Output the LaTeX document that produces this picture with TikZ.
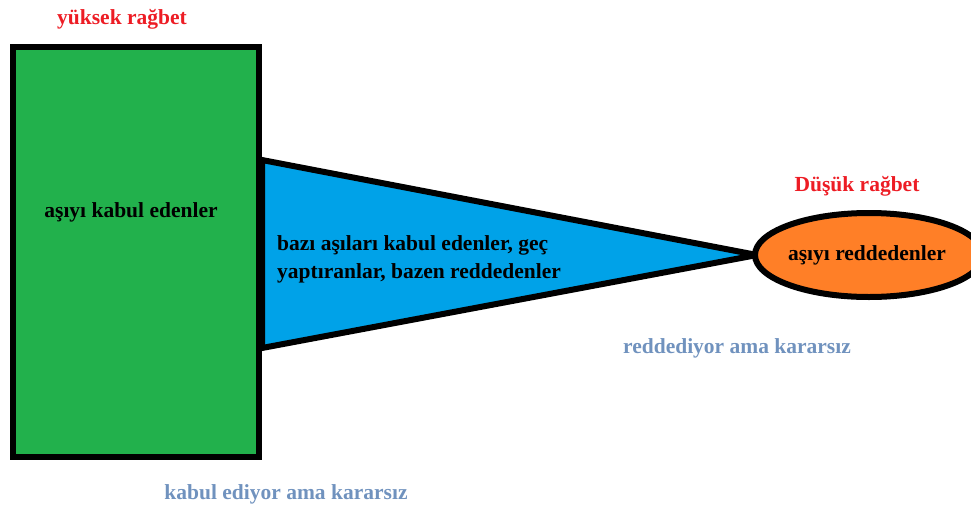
\documentclass[tikz,border=0pt]{standalone}
\usepackage{fontspec}
\setmainfont{Liberation Serif}
\usetikzlibrary{shapes.geometric}
\definecolor{pgreen}{RGB}{34,177,76}
\definecolor{pblue}{RGB}{0,162,232}
\definecolor{porange}{RGB}{255,127,39}
\definecolor{pred}{RGB}{237,28,36}
\definecolor{pgrey}{RGB}{112,146,190}
\tikzset{
  lbl/.style={font=\bfseries\fontsize{21.5}{28}\selectfont, inner sep=0pt},
  redlbl/.style={lbl, text=pred},
  greylbl/.style={lbl, text=pgrey},
  shapeline/.style={draw=black, line width=6pt, line join=miter}
}
\begin{document}
\begin{tikzpicture}[x=1pt,y=-1pt]
\useasboundingbox (0,0) rectangle (971,509);
\coordinate (apex) at (757,255);
\coordinate (tl) at (262,160);
\coordinate (bl) at (262,348);
\draw[shapeline, fill=pblue] (tl) -- (apex) -- (bl) -- cycle;
\node[shapeline, fill=pgreen, minimum width=246pt, minimum height=410pt, inner sep=0pt] (rect) at (136,252) {};
\node[shapeline, fill=porange, ellipse, minimum width=228pt, minimum height=84pt, inner sep=0pt] (ell) at (869,255) {};
\node[lbl] (t1) at (131,212) {aşıyı kabul edenler};
\node[lbl, align=left, anchor=west] (t2) at (277,259) {bazı aşıları kabul edenler, geç\\yaptıranlar, bazen reddedenler};
\node[lbl] (t3) at (867,255) {aşıyı reddedenler};
\node[redlbl] (h1) at (122,19) {yüksek rağbet};
\node[redlbl] (h2) at (857,186) {Düşük rağbet};
\node[greylbl] (g1) at (737,348) {reddediyor ama kararsız};
\node[greylbl] (g2) at (286,494) {kabul ediyor ama kararsız};
\end{tikzpicture}
\end{document}
